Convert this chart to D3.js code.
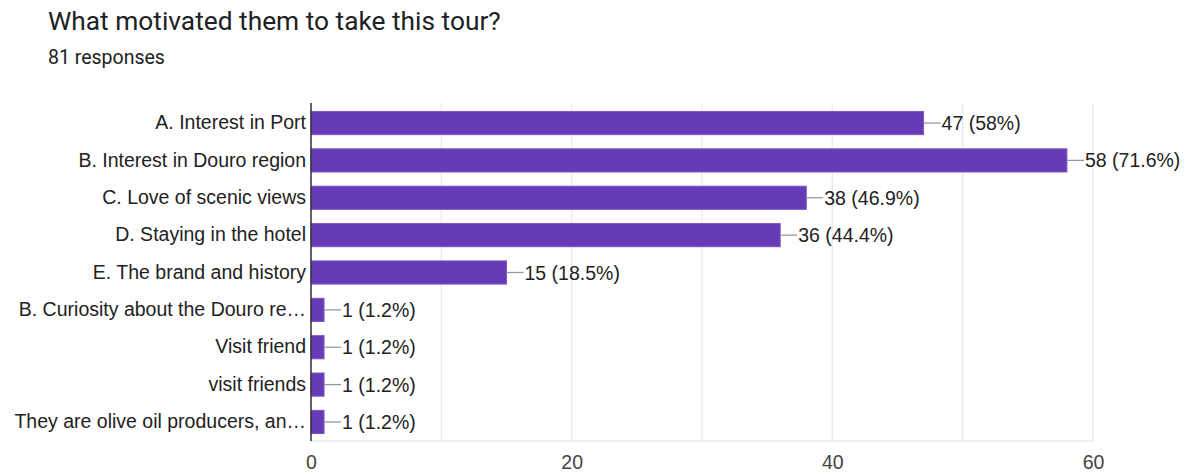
<!DOCTYPE html>
<html>
<head>
<meta charset="utf-8">
<script src="https://cdn.jsdelivr.net/npm/d3@7"></script>
<style>
  body { margin: 0; background: #fff; }
</style>
</head>
<body>
<div id="chart"></div>
<script>
// data
const categories = [
  "A. Interest in Port",
  "B. Interest in Douro region",
  "C. Love of scenic views",
  "D. Staying in the hotel",
  "E. The brand and history",
  "B. Curiosity about the Douro re\u2026",
  "Visit friend",
  "visit friends",
  "They are olive oil producers, an\u2026"
];
const counts = [47, 58, 38, 36, 15, 1, 1, 1, 1];
const percents = ["58%", "71.6%", "46.9%", "44.4%", "18.5%", "1.2%", "1.2%", "1.2%", "1.2%"];
const xTicks = [0, 20, 40, 60];
const gridTicks = [0, 10, 20, 30, 40, 50, 60];

const W = 1190, H = 474;
const margin = {top: 104, right: 97, bottom: 33, left: 311};
const labelFont = "'Liberation Sans', Arial, sans-serif";

const rows = categories.map((c, i) => ({cat: c, n: counts[i], pct: percents[i]}));

const svg = d3.select("#chart")
  .append("svg")
    .attr("width", W)
    .attr("height", H);

// title + subtitle
svg.append("text")
  .attr("x", 48).attr("y", 30)
  .attr("font-family", "Roboto, sans-serif")
  .attr("font-size", 26.3)
  .attr("fill", "#202124")
  .text("What motivated them to take this tour?");
svg.append("text")
  .attr("x", 48).attr("y", 64)
  .attr("font-family", "Roboto, sans-serif")
  .attr("font-size", 19.5)
  .attr("fill", "#202124")
  .text("81 responses");

const x = d3.scaleLinear()
  .domain([0, 60])
  .range([margin.left, W - margin.right]);

const y = d3.scaleBand()
  .domain(categories)
  .range([margin.top, H - margin.bottom])
  .paddingInner(0.38)
  .paddingOuter(0.2);

const plotTop = 103, plotBottom = 441;

// gridlines
svg.append("g")
  .selectAll("line")
  .data(gridTicks)
  .join("line")
    .attr("x1", d => x(d)).attr("x2", d => x(d))
    .attr("y1", plotTop).attr("y2", plotBottom)
    .attr("stroke", "#ebebeb")
    .attr("stroke-width", 1.5);
svg.append("line")
  .attr("x1", x(0)).attr("x2", x(60))
  .attr("y1", plotBottom).attr("y2", plotBottom)
  .attr("stroke", "#ebebeb")
  .attr("stroke-width", 1.5);

// x axis labels
const xAxis = svg.append("g")
  .attr("transform", `translate(0,${plotBottom})`)
  .call(d3.axisBottom(x).tickValues(xTicks).tickSize(0).tickPadding(14));
xAxis.select(".domain").remove();
xAxis.selectAll("text")
  .attr("font-family", labelFont)
  .attr("font-size", 19.5)
  .attr("fill", "#444");

// bars
svg.append("g")
  .selectAll("rect")
  .data(rows)
  .join("rect")
    .attr("x", x(0))
    .attr("y", d => y(d.cat))
    .attr("width", d => x(d.n) - x(0))
    .attr("height", y.bandwidth())
    .attr("fill", "#673ab7")
    .attr("stroke", "#7e57c2")
    .attr("stroke-width", 1);

// leader lines + value labels
const lbl = svg.append("g")
  .selectAll("g")
  .data(rows)
  .join("g")
    .attr("transform", d => `translate(${x(d.n)},${y(d.cat) + y.bandwidth() / 2})`);
lbl.append("line")
  .attr("x1", 0).attr("x2", 17)
  .attr("stroke", "#999")
  .attr("stroke-width", 1.3);
lbl.append("text")
  .attr("x", 18)
  .attr("dy", "0.36em")
  .attr("font-family", labelFont)
  .attr("font-size", 19.5)
  .attr("fill", "#222")
  .text(d => `${d.n} (${d.pct})`);

// category labels
const yAxis = svg.append("g")
  .attr("transform", `translate(${x(0)},0)`)
  .call(d3.axisLeft(y).tickSize(0).tickPadding(5));
yAxis.select(".domain").remove();
yAxis.selectAll("text")
  .attr("font-family", labelFont)
  .attr("font-size", 19.5)
  .attr("fill", "#222");

// zero axis line
svg.append("line")
  .attr("x1", x(0)).attr("x2", x(0))
  .attr("y1", plotTop).attr("y2", plotBottom)
  .attr("stroke", "#333")
  .attr("stroke-width", 1.5);
</script>
</body>
</html>
